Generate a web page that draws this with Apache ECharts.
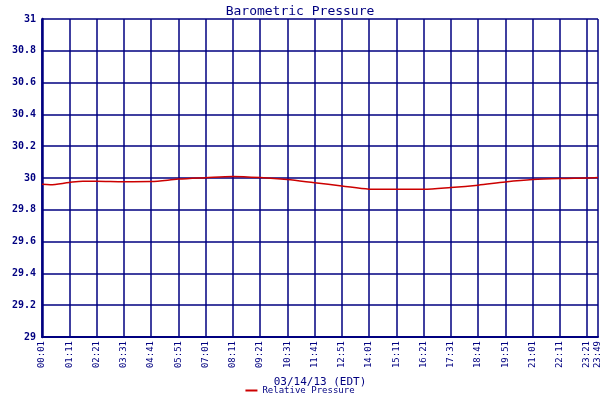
<!DOCTYPE html>
<html><head><meta charset="utf-8">
<script src="https://cdn.jsdelivr.net/npm/echarts@6/dist/echarts.min.js"></script>
<style>html,body{margin:0;padding:0;background:#fff}#c{width:600px;height:400px}</style>
</head><body><div id="c"></div>
<script>
// categories every 7 minutes from 00:01 to 23:49
const categories = [];
for (let m = 1; m <= 1429; m += 7) {
  const h = Math.floor(m / 60), mm = m % 60;
  categories.push(String(h).padStart(2,'0') + ':' + String(mm).padStart(2,'0'));
}
// sampled readings (category index -> pressure)
const sampleIdx = [0,3,10,15,20,30,40,50,60,70,80,90,100,110,120,130,140,150,160,170,180,190,200,204];
const sampleVal = [29.96,29.957,29.972,29.98,29.98,29.977,29.978,29.993,30.002,30.01,30.003,29.99,29.97,29.95,29.93,29.929,29.929,29.94,29.955,29.975,29.99,29.997,30.0,30.003];
const values = categories.map(() => null);
sampleIdx.forEach((i, k) => { values[i] = sampleVal[k]; });
const yTicks = [29,29.2,29.4,29.6,29.8,30,30.2,30.4,30.6,30.8,31];

const navy = '#000080';
const font = 'DejaVu Sans Mono';
const showIdx = (i) => i % 10 === 0 || i === categories.length - 1;
const chart = echarts.init(document.getElementById('c'));
chart.setOption({
  animation: false,
  title: { text: 'Barometric Pressure', left: 'center', top: 0,
    textStyle: { color: navy, fontFamily: font, fontSize: 13, fontWeight: 'normal' } },
  legend: { bottom: 0, left: 'center', itemWidth: 12, itemHeight: 2, icon: 'rect',
    textStyle: { color: navy, fontFamily: font, fontSize: 9 } },
  grid: { left: 42, right: 2, top: 19, bottom: 63, containLabel: false, outerBoundsMode: 'none' },
  xAxis: {
    type: 'category', data: categories, boundaryGap: false,
    name: '03/14/13 (EDT)', nameLocation: 'middle', nameGap: 40,
    nameTextStyle: { color: navy, fontFamily: font, fontSize: 11 },
    axisLine: { lineStyle: { color: navy, width: 2 } },
    axisTick: { show: false },
    axisLabel: { interval: (i) => showIdx(i), rotate: 90, color: navy, fontFamily: font, fontSize: 9, margin: 4 },
    splitLine: { show: true, interval: (i) => showIdx(i), lineStyle: { color: navy, width: 1.5 } }
  },
  yAxis: {
    type: 'value', min: 29, max: 31, interval: 0.2,
    name: 'IN Hg', nameLocation: 'middle', nameGap: 32, nameRotate: 90,
    nameTextStyle: { color: navy, fontFamily: font, fontSize: 11 },
    axisLine: { show: true, lineStyle: { color: navy, width: 2.5 } },
    axisTick: { show: false },
    axisLabel: { color: navy, fontFamily: font, fontSize: 10, fontWeight: 'bold', margin: 6,
      formatter: (v) => String(Math.round(v * 10) / 10) },
    splitLine: { lineStyle: { color: navy, width: 1.5 } }
  },
  series: [{
    name: 'Relative Pressure', type: 'line', data: values, connectNulls: true,
    showSymbol: false, smooth: 0.3, lineStyle: { color: '#cc0000', width: 1.5 },
    itemStyle: { color: '#cc0000' }
  }]
});
</script></body></html>
